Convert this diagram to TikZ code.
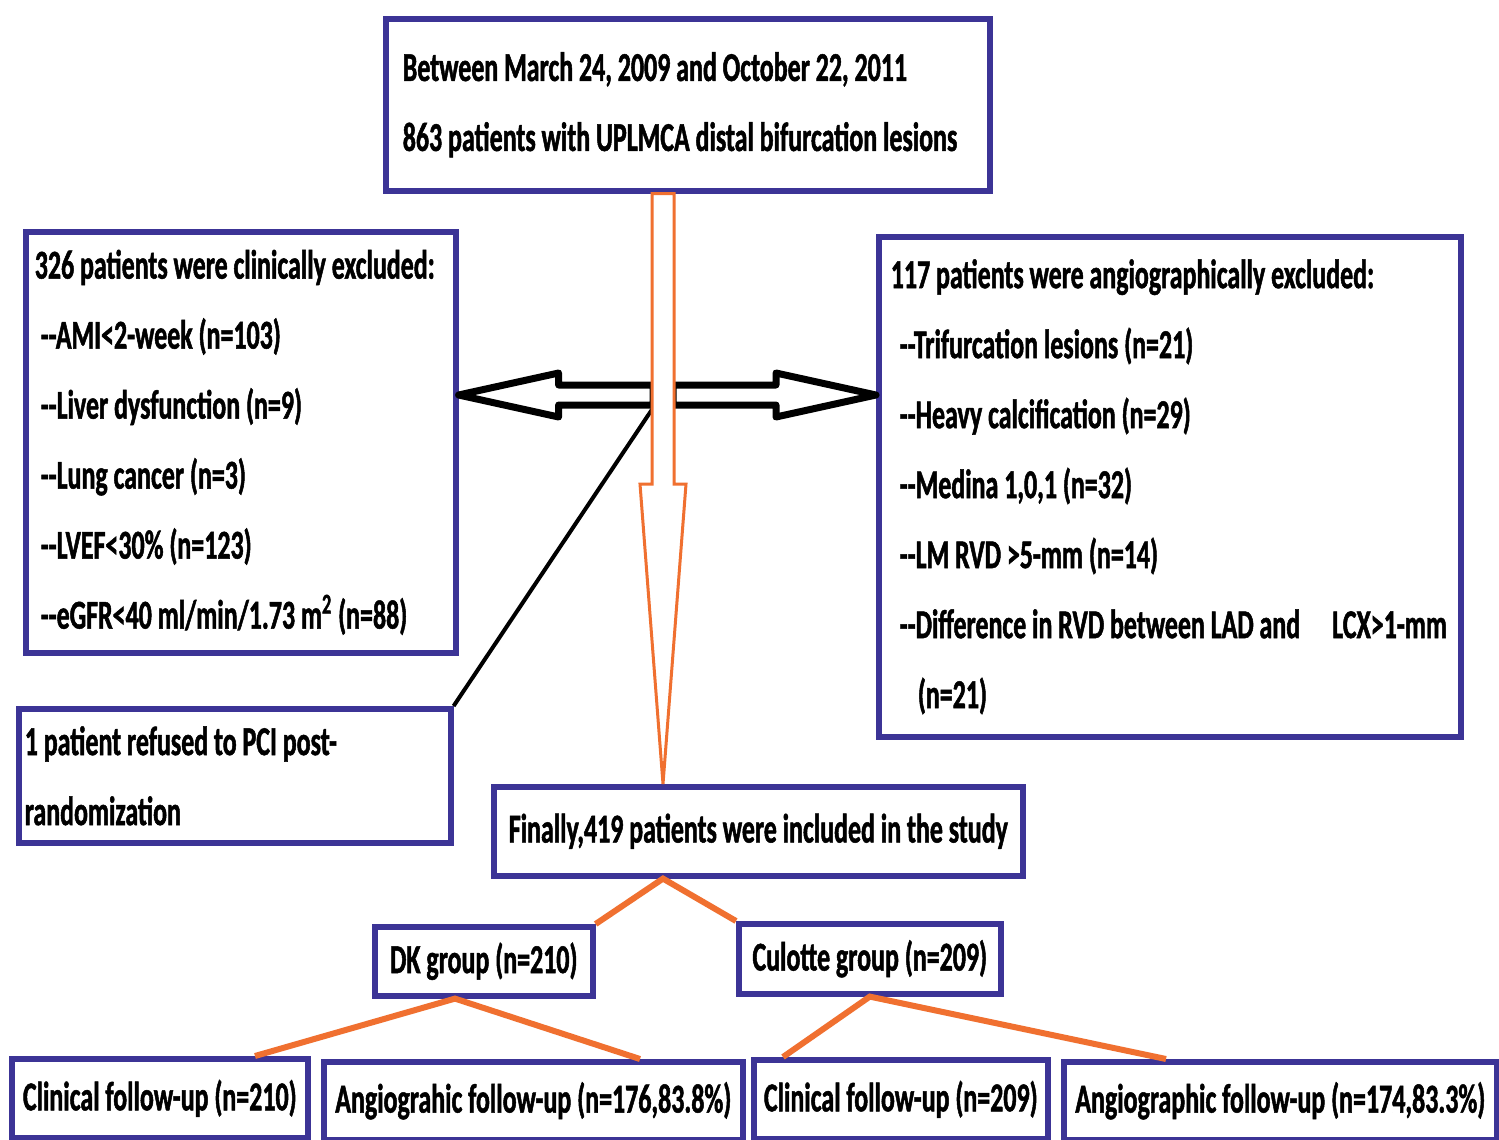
\documentclass[tikz,border=0pt]{standalone}
\usepackage{fontspec}
\newfontfamily\flowfont{Carlito}[FakeStretch=0.632, BoldFeatures={FakeBold=1.2}]
\usetikzlibrary{calc}
\definecolor{boxblue}{RGB}{60,52,150}
\definecolor{flowgold}{RGB}{240,112,48}

\begin{document}
\begin{tikzpicture}[x=0.5pt, y=-0.5pt,
  box/.style={draw=boxblue, line width=2.8pt, fill=white, anchor=north west,
    inner xsep=2pt, inner ysep=0pt,
    font=\flowfont\bfseries\fontsize{20.5}{35}\selectfont},
  listbox/.style={box, align=flush left, text width=#1},
  branch/.style={draw=flowgold, line width=3pt},
  sidearrow/.style={draw=black, line width=3.5pt, fill=white, line join=round},
  downarrow/.style={draw=flowgold, line width=1.5pt, fill=white}]

  \useasboundingbox (0,0) rectangle (1499,1140);
  \fill[white] (0,0) rectangle (1499,1140);

  % Screened population
  \node[listbox=285pt, inner xsep=8.5pt, minimum height=86pt] (top) at (383,16)
    {\mbox{Between March 24, 2009 and October 22, 2011}\\
     \mbox{863 patients with UPLMCA distal bifurcation lesions}};

  % Clinical exclusions
  \node[listbox=206pt, inner xsep=4.5pt, minimum height=210.5pt] (clin) at (23,229)
    {\mbox{326 patients were clinically excluded:}\\
     \mbox{\hspace{3pt}-{}-AMI<2-week (n=103)}\\
     \mbox{\hspace{3pt}-{}-Liver dysfunction (n=9)}\\
     \mbox{\hspace{3pt}-{}-Lung cancer (n=3)}\\
     \mbox{\hspace{3pt}-{}-LVEF<30\% (n=123)}\\
     \mbox{\hspace{3pt}-{}-eGFR<40 ml/min/1.73 m\textsuperscript{2} (n=88)}};

  % Angiographic exclusions
  \node[listbox=279pt, inner xsep=6pt, minimum height=250pt] (angio) at (876,234)
    {\mbox{117 patients were angiographically excluded:}\\
     \mbox{\hspace{4.5pt}-{}-Trifurcation lesions (n=21)}\\
     \mbox{\hspace{4.5pt}-{}-Heavy calcification (n=29)}\\
     \mbox{\hspace{4.5pt}-{}-Medina 1,0,1 (n=32)}\\
     \mbox{\hspace{4.5pt}-{}-LM RVD >5-mm (n=14)}\\
     \mbox{\hspace{4.5pt}-{}-Difference in RVD between LAD and\hspace{16pt}LCX>1-mm}\\
     \mbox{\hspace{13.5pt}(n=21)}};

  % Refused after randomization
  \node[listbox=210pt, inner xsep=3pt, minimum height=67pt] (refused) at (16,706)
    {\mbox{1 patient refused to PCI post-}\\
     randomization};

  % Included patients and groups
  \node[box, minimum width=264.5pt, minimum height=44.5pt] (final) at (491,784)
    {Finally,419 patients were included in the study};
  \node[box, minimum width=109pt, minimum height=34.5pt] (dk) at (372,924) {DK group (n=210)};
  \node[box, minimum width=131pt, minimum height=35pt] (cul) at (736,921) {Culotte group (n=209)};

  % Follow-up boxes
  \node[box, minimum width=148pt, minimum height=39.5pt] (clin1) at (9,1056) {Clinical follow-up (n=210)};
  \node[box, minimum width=209.5pt, minimum height=39pt] (ang1) at (321,1059) {Angiograhic follow-up (n=176,83.8\%)};
  \node[box, minimum width=147pt, minimum height=39.5pt] (clin2) at (751,1057) {Clinical follow-up (n=209)};
  \node[box, minimum width=216.5pt, minimum height=39pt] (ang2) at (1061,1059) {Angiographic follow-up (n=174,83.3\%)};

  % Exclusion arrows
  \coordinate (hub) at (663,395);
  \coordinate (split) at (655,405);
  \draw[sidearrow] (clin.east |- hub) -- ++(100,-22) -- ++(0,12) -- ($(hub)+(-10,-10)$)
    -- ($(hub)+(-10,10)$) -- ($(clin.east |- hub)+(100,10)$) -- ++(0,12) -- cycle;
  \draw[sidearrow] (angio.west |- hub) -- ++(-100,-22) -- ++(0,12) -- ($(hub)+(10,-10)$)
    -- ($(hub)+(10,10)$) -- ($(angio.west |- hub)+(-100,10)$) -- ++(0,12) -- cycle;
  \draw[line width=2pt] (split) -- (refused.north east);

  % Main flow arrow
  \coordinate (tip) at (hub |- final.north);
  \draw[downarrow] ($(top.south -| hub)+(-11,0)$) -- ($(tip)+(-11,-300)$) -- ($(tip)+(-23,-300)$)
    -- (tip) -- ($(tip)+(23,-300)$) -- ($(tip)+(11,-300)$) -- ($(top.south -| hub)+(11,0)$) -- cycle;

  % Group branches
  \draw[branch] (dk.north east) -- (hub |- final.south) -- (cul.north west);
  \draw[branch] ($(clin1.north west)+(246,0)$) -- ($(dk.south west)+(83,0)$) -- ($(ang1.north west)+(319,0)$);
  \draw[branch] ($(clin2.north west)+(32,0)$) -- (cul.south) -- ($(ang2.north west)+(105,0)$);

\end{tikzpicture}
\end{document}
